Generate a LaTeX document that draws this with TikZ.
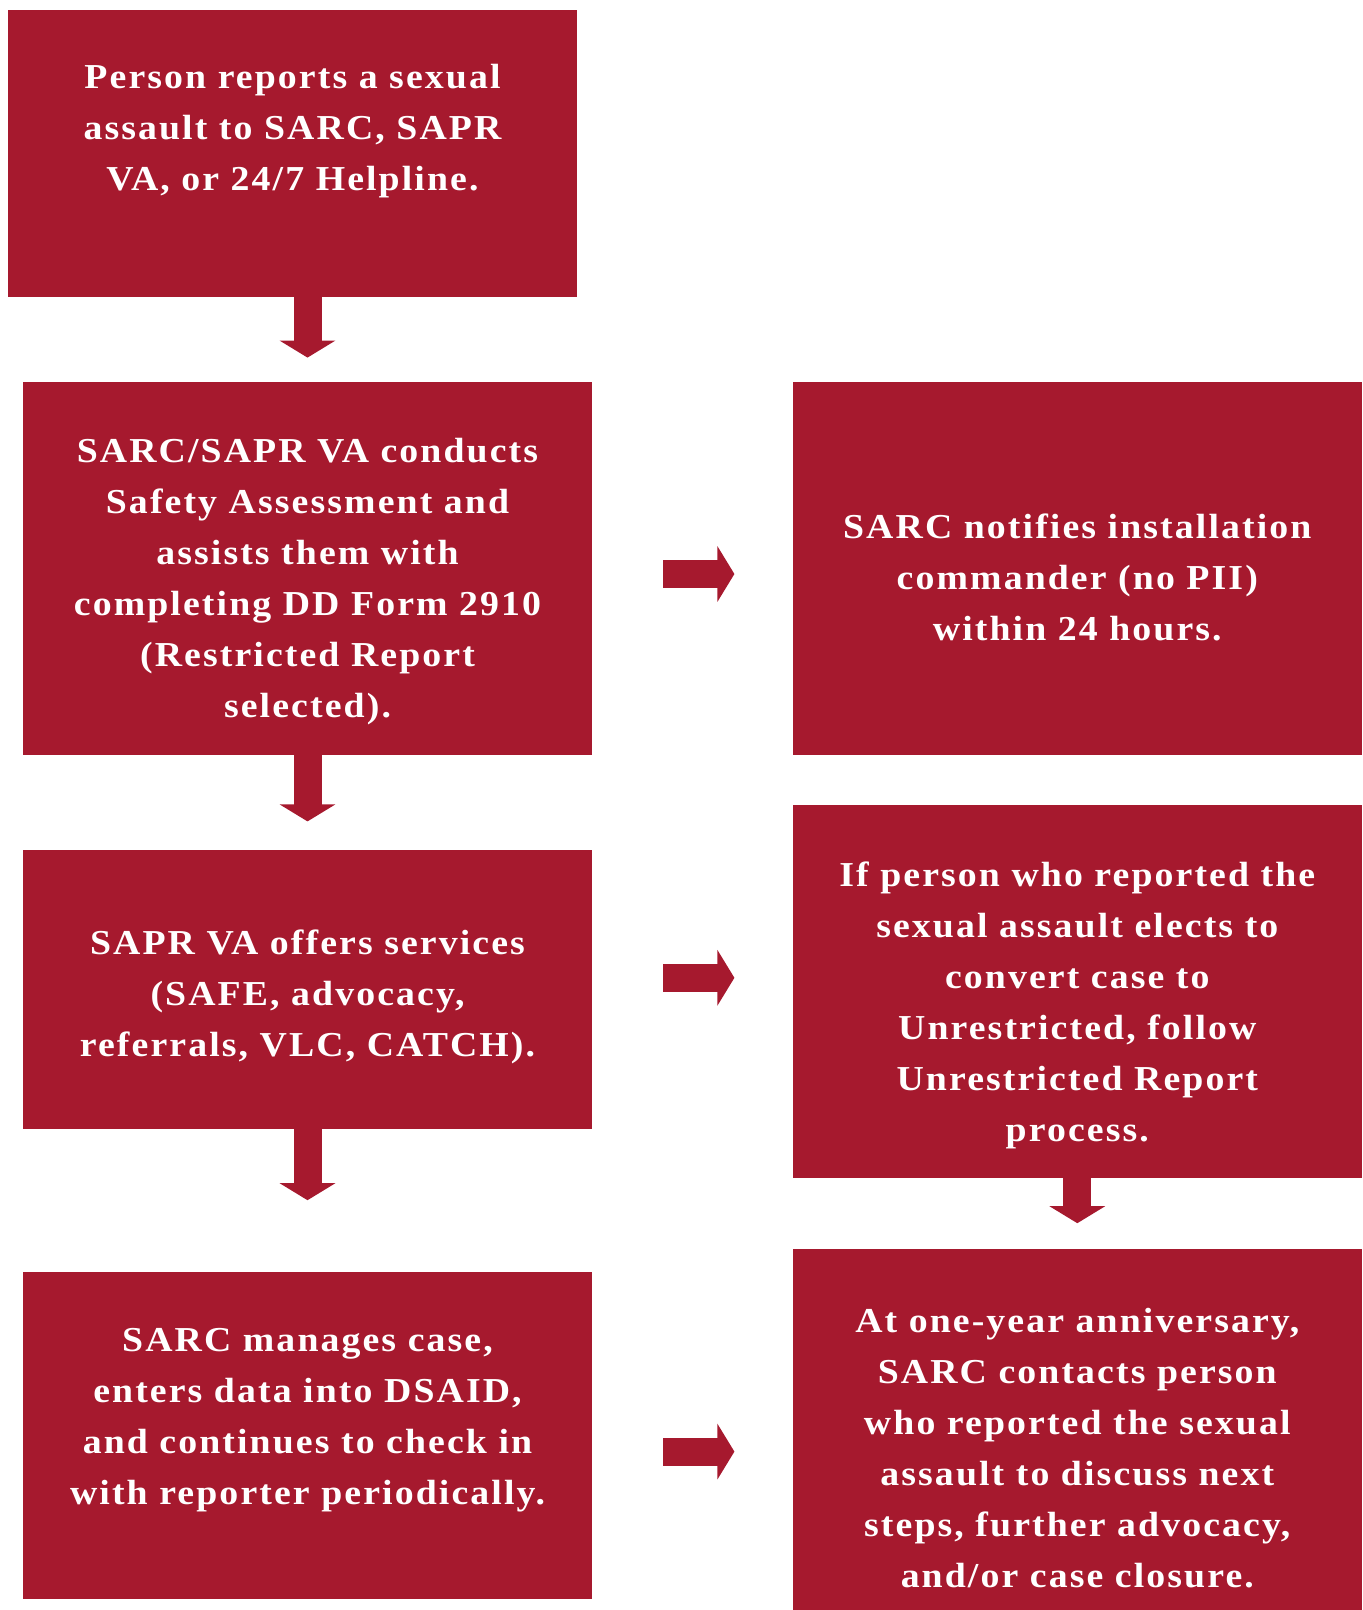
\documentclass[tikz,border=0pt]{standalone}
\usepackage{fontspec}
\setmainfont{Liberation Serif}[LetterSpace=6.0, FakeStretch=1.08]
\usetikzlibrary{arrows.meta, positioning}
\definecolor{sarcred}{RGB}{166,25,46}
\tikzstyle{redbox} = [
  rectangle, minimum width=284.5pt, inner sep=0pt, fill=sarcred
]
\tikzstyle{boxtext} = [
  text=white, align=center, inner sep=0pt,
  font=\fontsize{17.5pt}{25.5pt}\selectfont\bfseries
]
\tikzset{
  blockarrow/.style={
    sarcred, line width=14pt,
    -{Triangle[length=8.5pt,width=27.5pt]}
  }
}

\begin{document}
\begin{tikzpicture}[x=0.5pt, y=-0.5pt]

\useasboundingbox (0,0) rectangle (1363,1610);

% ------------------------------------------------
% LEFT COLUMN
% ------------------------------------------------

\node[redbox, minimum height=143.5pt,
  label={[boxtext, yshift=11pt]center:{%
  Person reports a sexual\\
  assault to SARC, SAPR\\
  VA, or 24/7 Helpline.}}] (b1) at (292.5,153.5) {};

\node[redbox, minimum height=186.5pt,
  label={[boxtext, yshift=-6.5pt]center:{%
  SARC/SAPR VA conducts\\
  Safety Assessment and\\
  assists them with\\
  completing DD Form 2910\\
  (Restricted Report\\
  selected).}}] (b2) at (307.5,568.5) {};

\node[redbox, minimum height=139.5pt, below=47pt of b2,
  label={[boxtext, yshift=-4pt]center:{%
  SAPR VA offers services\\
  (SAFE, advocacy,\\
  referrals, VLC, CATCH).}}] (b4) {};

\node[redbox, minimum height=163.5pt, below=71pt of b4,
  label={[boxtext, yshift=7.5pt]center:{%
  SARC manages case,\\
  enters data into DSAID,\\
  and continues to check in\\
  with reporter periodically.}}] (b6) {};

% ------------------------------------------------
% RIGHT COLUMN
% ------------------------------------------------

\node[redbox, minimum height=186.5pt, right=100pt of b2,
  label={[boxtext, yshift=-4.5pt]center:{%
  SARC notifies installation\\
  commander (no PII)\\
  within 24 hours.}}] (b3) {};

\node[redbox, minimum height=186.5pt, below=24.5pt of b3,
  label={[boxtext, yshift=-7pt]center:{%
  If person who reported the\\
  sexual assault elects to\\
  convert case to\\
  Unrestricted, follow\\
  Unrestricted Report\\
  process.}}] (b5) {};

\node[redbox, minimum height=181.5pt, below=35pt of b5,
  label={[boxtext, yshift=-9pt]center:{%
  At one-year anniversary,\\
  SARC contacts person\\
  who reported the sexual\\
  assault to discuss next\\
  steps, further advocacy,\\
  and/or case closure.}}] (b7) {};

% ------------------------------------------------
% ARROWS DOWN
% ------------------------------------------------

\draw[blockarrow, shorten >=12pt] (b2.north |- b1.south) -- (b2.north);
\draw[blockarrow, shorten >=14pt] (b2) -- (b4);
\draw[blockarrow, shorten >=35.5pt] (b4) -- (b6);
\draw[blockarrow, shorten >=12.5pt] (b5) -- (b7);

% ------------------------------------------------
% ARROWS RIGHT
% ------------------------------------------------

\coordinate (a23) at ([yshift=-2.75pt]b2.east);
\coordinate (a45) at ([yshift=5.75pt]b4.east);
\coordinate (a67) at ([yshift=-8.25pt]b6.east);

\draw[blockarrow, shorten <=35.5pt, shorten >=29pt] (a23) -- (a23 -| b3.west);
\draw[blockarrow, shorten <=35.5pt, shorten >=29pt] (a45) -- (a45 -| b5.west);
\draw[blockarrow, shorten <=35.5pt, shorten >=29pt] (a67) -- (a67 -| b7.west);

\end{tikzpicture}
\end{document}
